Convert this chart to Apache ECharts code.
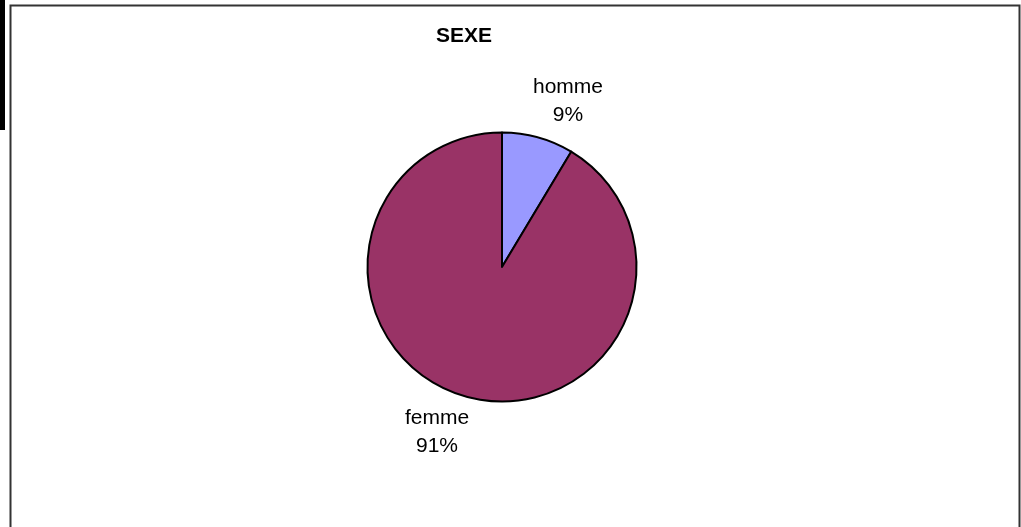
<!DOCTYPE html>
<html>
<head>
<meta charset="utf-8">
<script src="https://cdn.jsdelivr.net/npm/echarts@6/dist/echarts.min.js"></script>
<style>html,body{margin:0;padding:0;background:#fff;}#c{width:1021px;height:527px;}</style>
</head>
<body>
<div id="c"></div>
<script>
const title = 'SEXE';
const categories = ['homme', 'femme'];
const values = [8.6, 91.4];
const colors = ['#9999FF', '#993366'];

const labelPos = {
  homme: [568, 101],
  femme: [437, 432]
};

const chart = echarts.init(document.getElementById('c'), null, {renderer: 'canvas'});
chart.setOption({
  animation: false,
  backgroundColor: '#ffffff',
  title: {
    text: title,
    left: 436, top: 26, padding: 0,
    textStyle: {fontFamily: 'Liberation Sans, Arial, sans-serif', fontSize: 21, fontWeight: 'bold', color: '#000'}
  },
  graphic: [
    {type: 'rect', shape: {x: 0, y: 0, width: 5, height: 130}, style: {fill: '#000'}},
    {type: 'polyline', shape: {points: [[10.5, 540], [10.5, 5.5], [1019.5, 5.5], [1019.5, 540]]}, style: {stroke: '#333', lineWidth: 2, fill: null}}
  ],
  series: [{
    type: 'pie',
    center: [502, 267],
    radius: 134.5,
    startAngle: 90,
    clockwise: true,
    silent: true,
    data: categories.map((c, i) => ({name: c, value: values[i], itemStyle: {color: colors[i]}})),
    itemStyle: {borderColor: '#000', borderWidth: 2},
    label: {
      show: true,
      position: 'outside',
      formatter: p => p.name + '\n' + Math.round(p.percent) + '%',
      fontFamily: 'Liberation Sans, Arial, sans-serif',
      fontSize: 21,
      lineHeight: 28,
      color: '#000',
      align: 'center'
    },
    labelLine: {show: false},
    labelLayout: function (params) {
      const p = labelPos[categories[params.dataIndex]];
      return {x: p[0], y: p[1], align: 'center', verticalAlign: 'middle'};
    }
  }]
});
</script>
</body>
</html>
